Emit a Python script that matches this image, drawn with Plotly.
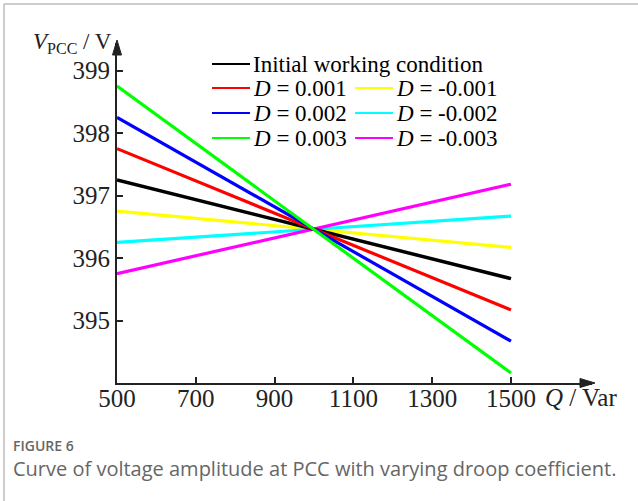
import plotly.graph_objects as go

# ---------------- data ----------------
Q = [500, 1000, 1500]
labels = ["Initial working condition", "D = 0.001", "D = 0.002", "D = 0.003",
          "D = -0.001", "D = -0.002", "D = -0.003"]
legend_text = ["Initial working condition", "<i>D</i> = 0.001", "<i>D</i> = 0.002",
               "<i>D</i> = 0.003", "<i>D</i> = -0.001", "<i>D</i> = -0.002",
               "<i>D</i> = -0.003"]
v_initial = [397.25, 396.46, 395.67]
v_p001 = [397.75, 396.46, 395.17]
v_p002 = [398.25, 396.46, 394.67]
v_p003 = [398.75, 396.46, 394.16]
v_m001 = [396.75, 396.46, 396.17]
v_m002 = [396.25, 396.46, 396.67]
v_m003 = [395.75, 396.46, 397.18]
series = [v_initial, v_p001, v_p002, v_p003, v_m001, v_m002, v_m003]
colors = ["#000000", "#ff0000", "#0000ff", "#00ff00", "#ffff00", "#00ffff", "#ff00ff"]
x_ticks = [500, 700, 900, 1100, 1300, 1500]
y_ticks = [395, 396, 397, 398, 399]

# ---------------- layout geometry ----------------
W, H = 638, 501
L, R, T, B = 117, 46, 43, 118
PW, PH = W - L - R, H - T - B

def px(x):
    return (x - L) / PW

def py(y):
    return (H - B - y) / PH

SERIF = "Liberation Serif, Times New Roman, serif"
AX = "#222222"

fig = go.Figure()
draw_order = [4, 5, 6, 0, 1, 2, 3]
for i in draw_order:
    fig.add_trace(go.Scatter(x=Q, y=series[i], mode="lines", name=labels[i],
                             line=dict(color=colors[i], width=3.5 if i == 0 else 3.2),
                             showlegend=False))

fig.update_layout(
    width=W, height=H, margin=dict(l=L, r=R, t=T, b=B),
    paper_bgcolor="white", plot_bgcolor="white",
    xaxis=dict(range=[500, 500 + (592 - 117) / 0.394], tickvals=x_ticks,
               showgrid=False, zeroline=False, showline=True, linecolor=AX, linewidth=2,
               ticks="inside", ticklen=6, tickwidth=1.5, tickcolor=AX,
               ticklabelstandoff=-8,
               tickfont=dict(family=SERIF, size=25, color=AX)),
    yaxis=dict(range=[394, 394 + (383 - 43) / 62.5], tickvals=y_ticks,
               showgrid=False, zeroline=False, showline=True, linecolor=AX, linewidth=2,
               ticks="inside", ticklen=6, tickwidth=1.5, tickcolor=AX,
               tickfont=dict(family=SERIF, size=25, color=AX)),
)

# axis arrowheads
fig.add_shape(type="path", xref="paper", yref="paper",
              path=f"M {px(117)} {py(40)} L {px(112.5)} {py(55)} L {px(121.5)} {py(55)} Z",
              fillcolor=AX, line=dict(color=AX, width=1))
fig.add_shape(type="path", xref="paper", yref="paper",
              path=f"M {px(595)} {py(383)} L {px(580)} {py(378.5)} L {px(580)} {py(387.5)} Z",
              fillcolor=AX, line=dict(color=AX, width=1))

# axis titles
fig.add_annotation(xref="paper", yref="paper", x=px(31), y=py(43), xanchor="left",
                   yanchor="middle", showarrow=False,
                   text="<i>V</i><sub><span style='font-size:16px'>PCC</span></sub> / V",
                   font=dict(family=SERIF, size=23, color=AX))
fig.add_annotation(xref="paper", yref="paper", x=px(543), y=py(397), xanchor="left",
                   yanchor="middle", showarrow=False,
                   text="<i>Q</i> / Var", font=dict(family=SERIF, size=25, color=AX))

# manual legend
rows_y = [64, 88, 113, 138]
positions = [(0, 0), (0, 1), (0, 2), (0, 3), (1, 1), (1, 2), (1, 3)]
col_x = [212, 355]
for i, (c, r) in enumerate(positions):
    x0 = col_x[c]
    y = rows_y[r]
    fig.add_shape(type="line", xref="paper", yref="paper", x0=px(x0), x1=px(x0 + 38),
                  y0=py(y), y1=py(y), line=dict(color=colors[i], width=2))
    fig.add_annotation(xref="paper", yref="paper", x=px(x0 + 39), y=py(y), xanchor="left",
                       yanchor="middle", showarrow=False, text=legend_text[i],
                       font=dict(family=SERIF, size=23, color="#000000"))

# frame lines
fig.add_shape(type="line", xref="paper", yref="paper", x0=px(4), x1=px(W), y0=py(4), y1=py(4),
              line=dict(color="#bdbdbd", width=1.5))
fig.add_shape(type="line", xref="paper", yref="paper", x0=px(4), x1=px(4), y0=py(4), y1=py(H),
              line=dict(color="#bdbdbd", width=1.5))

# caption
fig.add_annotation(xref="paper", yref="paper", x=px(11), y=py(445), xanchor="left",
                   yanchor="middle", showarrow=False, text="FIGURE 6",
                   font=dict(family="Open Sans", size=14, color="#666666", weight=600))
fig.add_annotation(xref="paper", yref="paper", x=px(11), y=py(468), xanchor="left",
                   yanchor="middle", showarrow=False,
                   text="Curve of voltage amplitude at PCC with varying droop coefficient.",
                   font=dict(family="Open Sans", size=20, color="#666666"))

fig.write_html("out.html")
